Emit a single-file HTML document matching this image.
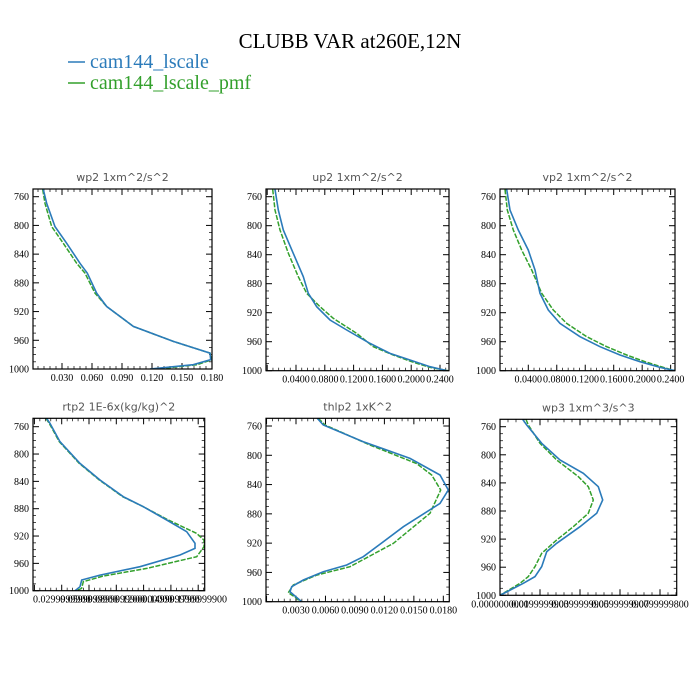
<!DOCTYPE html>
<html><head><meta charset="utf-8"><style>
html,body{margin:0;padding:0;background:#fff;}
svg{display:block;}
</style></head><body>
<svg id="chart" width="700" height="700" viewBox="0 0 700 700" xmlns="http://www.w3.org/2000/svg">
<text x="350" y="48" text-anchor="middle" font-family="Liberation Serif, serif" font-size="21" fill="#000">CLUBB VAR at260E,12N</text>
<g>
<line x1="68" y1="62" x2="85" y2="62" stroke="#2b7bba" stroke-width="1.5"/>
<text x="90" y="68" font-family="Liberation Serif, serif" font-size="20" fill="#2b7bba">cam144_lscale</text>
<line x1="68" y1="83" x2="85" y2="83" stroke="#33a02c" stroke-width="1.5"/>
<text x="90" y="89" font-family="Liberation Serif, serif" font-size="20" fill="#33a02c">cam144_lscale_pmf</text>
</g>
</svg>
<script>
// ---- data (pressure levels in hPa, values in panel units) ----
const yTickLabels = [760, 800, 840, 880, 920, 960, 1000];

const wp2P   = [749.8,769.3,801.7,824.9,852.7,866.6,894.4,912.9,940.7,961.5,977.8,987,994,1000];
const wp2A   = [0.0113,0.0147,0.023,0.0347,0.048,0.0553,0.0647,0.0747,0.1013,0.1413,0.178,0.1787,0.1613,0.118];
const wp2B   = [0.0107,0.013,0.0197,0.0313,0.0447,0.053,0.063,0.0747,0.1013,0.1413,0.178,0.18,0.165,0.125];
const wp2Ticks = [0.03,0.06,0.09,0.12,0.15,0.18];
const wp2TickLabels = ["0.030","0.060","0.090","0.120","0.150","0.180"];

const up2P   = [749.9,778.4,806,838.2,870.3,893.3,911.7,930.1,943.9,962.3,976.1,985.3,994.5,1000];
const up2A   = [0.0108,0.0154,0.0224,0.0363,0.0502,0.0571,0.0687,0.0872,0.1104,0.1428,0.1706,0.1983,0.2261,0.2493];
const up2PB  = [749.9,778.4,806,838.2,870.3,893.3,911.7,927.8,948.5,966.9,978.4,987.6,995.4,1000];
const up2B   = [0.0076,0.0108,0.0178,0.0294,0.0432,0.0548,0.0733,0.0919,0.1243,0.1474,0.1752,0.2007,0.2261,0.2516];
const up2Ticks = [0.04,0.08,0.12,0.16,0.20,0.24];
const up2TickLabels = ["0.0400","0.0800","0.1200","0.1600","0.2000","0.2400"];

const vp2P   = [749.9,778.4,806,833.6,861.1,893.3,916.3,934.7,953.1,966.9,978.4,987.6,995.4,1000];
const vp2A   = [0.0096,0.0143,0.0259,0.04,0.0494,0.0564,0.0681,0.0845,0.1126,0.1407,0.1688,0.1969,0.225,0.2461];
const vp2B   = [0.0073,0.0105,0.0189,0.0307,0.0448,0.0588,0.0751,0.094,0.1221,0.1502,0.1783,0.204,0.2297,0.2461];
const vp2Ticks = [0.04,0.08,0.12,0.16,0.20,0.24];
const vp2TickLabels = ["0.0400","0.0800","0.1200","0.1600","0.2000","0.2400"];

const rtp2PA = [747.8,755.1,782,813.7,838,862.4,877.1,896.6,913.7,930.7,938,947.8,964.9,977.1,984.4,994.1,1000];
const rtp2A  = [0.0135,0.0171,0.0281,0.0501,0.0721,0.0977,0.1197,0.1454,0.1674,0.1765,0.1765,0.16,0.116,0.0721,0.052,0.0501,0.0446];
const rtp2PB = [747.8,755.1,782,813.7,838,862.4,877.1,896.6,916.1,925.9,935.6,950.2,967.3,978.5,986.8,996.6,1000];
const rtp2B  = [0.0127,0.0164,0.0274,0.0493,0.0713,0.097,0.1197,0.1471,0.1784,0.1864,0.1864,0.1784,0.1234,0.0757,0.0537,0.0519,0.0465];
const rtp2Ticks = [0.03,0.06,0.09,0.12,0.15,0.18];
const rtp2TickLabels = ["0.0299999900","0.0599999900","0.0899999900","0.1200000000","0.1499999900","0.1799999900"];

const thlp2PA = [749.5,758.6,781.4,804.2,826.9,847.4,865.7,897.5,938.5,949.9,959,970.4,979.5,986.3,1000];
const thlp2A  = [0.00517,0.00578,0.00985,0.01461,0.01766,0.01851,0.01766,0.01393,0.00985,0.00816,0.00578,0.00374,0.00256,0.00239,0.00358];
const thlp2PB = [749.5,758.6,786,811.3,826.9,847.4,879.3,920.3,952.2,963.6,977.2,987.7,995.4,1000];
const thlp2B  = [0.00527,0.00595,0.01053,0.01529,0.01682,0.01773,0.01664,0.01291,0.0085,0.00511,0.00273,0.00222,0.00307,0.00341];
const thlp2Ticks = [0.003,0.006,0.009,0.012,0.015,0.018];
const thlp2TickLabels = ["0.0030","0.0060","0.0090","0.0120","0.0150","0.0180"];

const wp3PA = [749.6,757.6,783.7,807.4,826.4,845.4,864.3,883.3,902.3,926,937.9,959.2,973.4,982.9,1000];
const wp3A  = [0.01133,0.01333,0.02083,0.03,0.04167,0.04917,0.05133,0.04833,0.04,0.02833,0.02333,0.02083,0.0175,0.01167,0];
const wp3PB = [749.6,757.6,783.7,807.4,831.1,845.4,864.3,883.3,902.3,921.3,940.2,959.2,973.4,982.9,1000];
const wp3B  = [0.013,0.01417,0.02,0.02833,0.03917,0.04417,0.04667,0.04417,0.03667,0.02833,0.02083,0.0175,0.01417,0.01,0];
const wp3Ticks = [0,0.02,0.04,0.06,0.08];
const wp3TickLabels = ["0.0000000000","0.0199999900","0.0399999900","0.0599999900","0.0799999800"];

// ---- layout ----
const svg = document.getElementById('chart');
const NS = 'http://www.w3.org/2000/svg';
function mk(tag, attrs, parent){
  const e = document.createElementNS(NS, tag);
  for (const k in attrs) e.setAttribute(k, attrs[k]);
  parent.appendChild(e);
  return e;
}
const BLUE = '#2b7bba', GREEN = '#33a02c';

const panels = [
  {key:'wp2', title:'wp2  1xm^2/s^2', l:33,t:189,r:212,b:369, y760:196.7, y1000:369, xv0:0.03, xp0:62, xs:1000,
   pA:wp2P, a:wp2A, pB:wp2P, bb:wp2B, ticks:wp2Ticks, tl:wp2TickLabels},
  {key:'up2', title:'up2  1xm^2/s^2', l:266,t:189,r:449,b:370.7, y760:196.7, y1000:370.7, xv0:0.04, xp0:296, xs:720,
   pA:up2P, a:up2A, pB:up2PB, bb:up2B, ticks:up2Ticks, tl:up2TickLabels},
  {key:'vp2', title:'vp2  1xm^2/s^2', l:500,t:189,r:675,b:370.7, y760:196.7, y1000:370.7, xv0:0.04, xp0:528.3, xs:711.7,
   pA:vp2P, a:vp2A, pB:vp2P, bb:vp2B, ticks:vp2Ticks, tl:vp2TickLabels},
  {key:'rtp2', title:'rtp2  1E-6x(kg/kg)^2', l:33,t:418.3,r:204.7,b:590.7, y760:426.7, y1000:590.7, xv0:0.03, xp0:61.7, xs:910,
   pA:rtp2PA, a:rtp2A, pB:rtp2PB, bb:rtp2B, ticks:rtp2Ticks, tl:rtp2TickLabels},
  {key:'thlp2', title:'thlp2  1xK^2', l:266,t:418.3,r:449.3,b:601.7, y760:426, y1000:601.7, xv0:0.003, xp0:296, xs:9822,
   pA:thlp2PA, a:thlp2A, pB:thlp2PB, bb:thlp2B, ticks:thlp2Ticks, tl:thlp2TickLabels},
  {key:'wp3', title:'wp3  1xm^3/s^3', l:500,t:419.3,r:676.7,b:595.3, y760:426.7, y1000:595.3, xv0:0, xp0:500, xs:2000,
   pA:wp3PA, a:wp3A, pB:wp3PB, bb:wp3B, ticks:wp3Ticks, tl:wp3TickLabels}
];

panels.forEach(P => {
  const g = mk('g', {}, svg);
  
  
  const xS = v => P.xp0 + (v - P.xv0) * P.xs;
  const yS = p => P.y760 + (p - 760) * (P.y1000 - P.y760) / 240;

  const title = mk('text', {x:(P.l+P.r)/2, y:P.t-8, 'text-anchor':'middle', 'font-family':'DejaVu Sans, sans-serif', 'font-size':'11', fill:'#555', 'xml:space':'preserve'}, g);
  title.textContent = P.title.replace('  ', '   ');
  
  

  // y ticks
  for (let p = 760; p <= 1000; p += 10) {
    if (yS(p) < P.t - 0.5) continue;
    const major = p % 40 === 0;
    const len = major ? 6 : 3;
    const y = yS(p);
    mk('line', {x1:P.l, y1:y, x2:P.l+len, y2:y, stroke:'#000', 'stroke-width':major?1:0.7}, g);
    mk('line', {x1:P.r, y1:y, x2:P.r-len, y2:y, stroke:'#000', 'stroke-width':major?1:0.7}, g);
  }
  yTickLabels.forEach(p => {
    const t = mk('text', {x:P.l-4, y:yS(p)+3.5, 'text-anchor':'end', 'font-family':'Liberation Serif, serif', 'font-size':'10', fill:'#000'}, g);
    t.textContent = p;
    
    
  });
  // x ticks
  const step = P.ticks[1] - P.ticks[0];
  for (let i = -6; i < 60; i++) {
    const v = P.ticks[0] + i * step / 5;
    const x = xS(v);
    if (x < P.l + 0.5 || x > P.r - 0.5) continue;
    const major = i % 5 === 0;
    const len = major ? 6 : 3;
    mk('line', {x1:x, y1:P.b, x2:x, y2:P.b-len, stroke:'#000', 'stroke-width':major?1:0.7}, g);
    mk('line', {x1:x, y1:P.t, x2:x, y2:P.t+len, stroke:'#000', 'stroke-width':major?1:0.7}, g);
  }
  P.ticks.forEach((v, i) => {
    const t = mk('text', {x:xS(v), y:P.b+12, 'text-anchor':'middle', 'font-family':'Liberation Serif, serif', 'font-size':'10', fill:'#000'}, g);
    t.textContent = P.tl[i];
    
    
  });

  // clip
  const cp = mk('clipPath', {id:'clip-' + P.key}, g);
  mk('rect', {x:P.l, y:P.t, width:P.r-P.l, height:P.b-P.t}, cp);

  const ptsA = P.a.map((v, i) => xS(v).toFixed(1) + ',' + yS(P.pA[i]).toFixed(1)).join(' ');
  const ptsB = P.bb.map((v, i) => xS(v).toFixed(1) + ',' + yS(P.pB[i]).toFixed(1)).join(' ');
  const lb = mk('polyline', {points:ptsB, fill:'none', stroke:GREEN, 'stroke-width':1.5, 'stroke-dasharray':'5,1.5', 'clip-path':'url(#clip-' + P.key + ')'}, g);
  
  
  const la = mk('polyline', {points:ptsA, fill:'none', stroke:BLUE, 'stroke-width':1.6, 'clip-path':'url(#clip-' + P.key + ')'}, g);
  
  

  const box = mk('rect', {x:P.l, y:P.t, width:P.r-P.l, height:P.b-P.t, fill:'none', stroke:'#000', 'stroke-width':1.2}, g);
  
  
});
</script>
</body></html>
